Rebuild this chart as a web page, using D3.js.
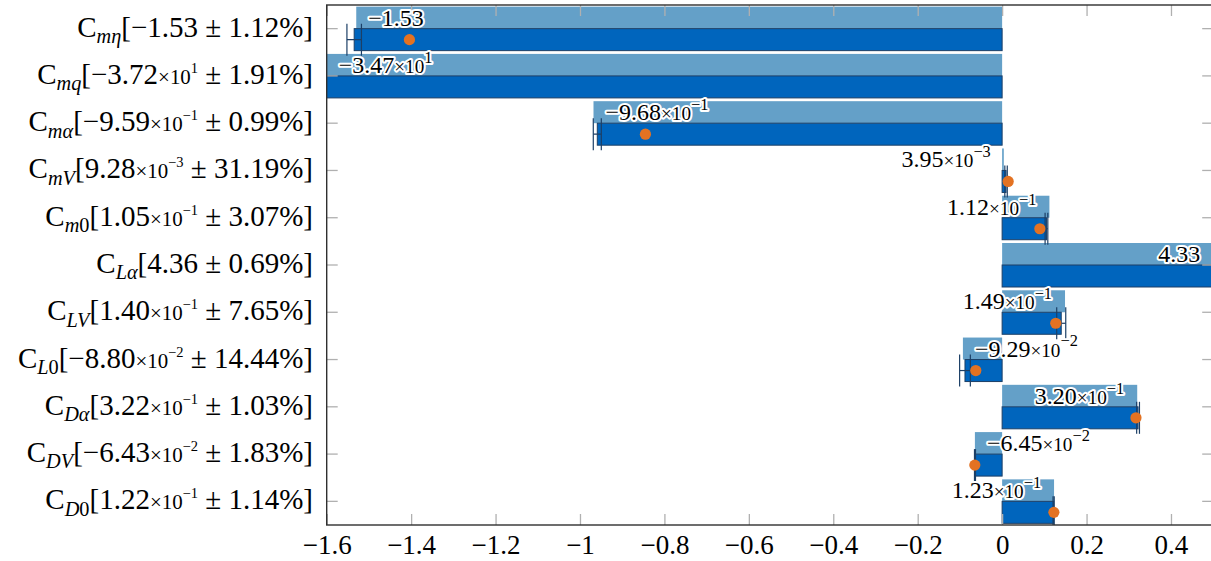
<!DOCTYPE html>
<html>
<head>
<meta charset="utf-8">
<script src="https://cdn.jsdelivr.net/npm/d3@7"></script>
<style>
  body { margin: 0; background: #fff; }
  svg text { font-family: "Liberation Serif", "DejaVu Serif", serif; white-space: pre; }
</style>
</head>
<body>
<svg id="chart" width="1211" height="561"></svg>
<script>
// coefficient subscripts (C_xx), first char group italic letters
const coeffs = ["mη", "mq", "mα", "mV", "m0", "Lα", "LV", "L0", "Dα", "DV", "D0"];
// identified estimate (dark bar) and its relative error in %
const estimates = [-1.5349, -37.2, -0.959, 0.00928, 0.105, 4.36, 0.140, -0.0880, 0.322, -0.0643, 0.122];
const errorsPct = [1.12, 1.91, 0.99, 31.19, 3.07, 0.69, 7.65, 14.44, 1.03, 1.83, 1.14];
// reference values (light bar, labelled)
const references = [-1.53, -34.7, -0.968, 0.00395, 0.112, 4.33, 0.149, -0.0929, 0.320, -0.0645, 0.123];
// orange markers (null = outside of the plotted range)
const markers = [-1.404, null, -0.845, 0.0143, 0.0894, null, 0.127, -0.0624, 0.317, -0.0647, 0.1226];
const xTicks = [-1.6, -1.4, -1.2, -1, -0.8, -0.6, -0.4, -0.2, 0, 0.2, 0.4];

const lightBlue = "#64a0c8";
const darkBlue = "#0065bd";
const edgeBlue = "#1c3f66";
const orange = "#e37222";

const plot = {left: 326.7, right: 1213.2, top: 5, bottom: 525};
const svg = d3.select("#chart");

const x = d3.scaleLinear().domain([-1.6, 0.5]).range([plot.left, plot.right]);
const y = d3.scaleBand().domain(coeffs).range([plot.top, plot.bottom]).padding(0);
const barH = 22;
const yc = c => y(c) + y.bandwidth() / 2;

svg.append("clipPath").attr("id", "clip")
    .append("rect")
    .attr("x", plot.left).attr("y", plot.top)
    .attr("width", plot.right - plot.left).attr("height", plot.bottom - plot.top);

// Write a list of text pieces (size scale, rise, italic) into a text element
function addParts(text, parts, base) {
    let cur = 0;
    parts.forEach(p => {
        const ts = text.append("tspan").text(p.s).style("font-size", (base * (p.scale || 1)) + "px");
        if (p.italic) ts.style("font-style", "italic");
        const target = -(p.rise || 0) * base;
        ts.attr("dy", target - cur);
        cur = target;
    });
}

function valueParts(v, small, sup, rise) {
    const exp = Math.floor(Math.log10(Math.abs(v)));
    const sign = v < 0 ? "\u2212" : "";
    if (exp === 0) return [{s: sign + Math.abs(v).toFixed(2)}];
    const mant = Math.abs(v) / Math.pow(10, exp);
    return [
        {s: sign + mant.toFixed(2)},
        {s: "\u00d710", scale: small},
        {s: (exp < 0 ? "\u2212" : "") + Math.abs(exp), scale: sup, rise: rise}
    ];
}

const clipped = svg.append("g").attr("clip-path", "url(#clip)");

// light (reference) bars
clipped.selectAll("rect.ref")
    .data(coeffs)
    .enter().append("rect")
    .attr("class", "ref")
    .attr("x", (d, i) => x(Math.min(0, references[i])))
    .attr("y", d => yc(d) - barH)
    .attr("width", (d, i) => Math.abs(x(references[i]) - x(0)))
    .attr("height", barH)
    .attr("fill", lightBlue);

// dark (estimate) bars
clipped.selectAll("rect.est")
    .data(coeffs)
    .enter().append("rect")
    .attr("class", "est")
    .attr("x", (d, i) => x(Math.min(0, estimates[i])))
    .attr("y", d => yc(d))
    .attr("width", (d, i) => Math.abs(x(estimates[i]) - x(0)))
    .attr("height", barH)
    .attr("fill", darkBlue)
    .attr("stroke", edgeBlue)
    .attr("stroke-width", 1);

// error bars
coeffs.forEach((c, i) => {
    const v = estimates[i], e = Math.abs(v) * errorsPct[i] / 100;
    const cy = yc(c) + barH / 2;
    const g = clipped.append("g").attr("stroke", edgeBlue).attr("stroke-width", 1.2);
    g.append("line").attr("x1", x(v - e)).attr("x2", x(v + e)).attr("y1", cy).attr("y2", cy);
    [v - e, v + e].forEach(b =>
        g.append("line").attr("x1", x(b)).attr("x2", x(b)).attr("y1", cy - 16).attr("y2", cy + 16));
});

// markers
clipped.selectAll("circle.mk")
    .data(coeffs.filter((c, i) => markers[i] !== null))
    .enter().append("circle")
    .attr("class", "mk")
    .attr("cx", c => x(markers[coeffs.indexOf(c)]))
    .attr("cy", c => yc(c) + barH / 2)
    .attr("r", 5.6)
    .attr("fill", orange);

// axes (ticks point inward, light grey)
const tickFmt = d3.format(".1~f");
const axB = svg.append("g").attr("transform", `translate(0,${plot.bottom})`)
    .call(d3.axisBottom(x).tickValues(xTicks).tickSize(-11).tickSizeOuter(0).tickPadding(10).tickFormat(tickFmt));
const axT = svg.append("g").attr("transform", `translate(0,${plot.top})`)
    .call(d3.axisTop(x).tickValues(xTicks).tickSize(-11).tickSizeOuter(0).tickFormat(""));
const axL = svg.append("g").attr("transform", `translate(${plot.left},0)`)
    .call(d3.axisLeft(y).tickSize(-11).tickSizeOuter(0).tickFormat(""));
const axR = svg.append("g").attr("transform", `translate(${plot.right},0)`)
    .call(d3.axisRight(y).tickSize(-11).tickSizeOuter(0).tickFormat(""));
[axB, axT, axL, axR].forEach(a => {
    a.select(".domain").remove();
    a.selectAll(".tick line").attr("stroke", "#b0b0b0").attr("stroke-width", 1.3);
});
axB.selectAll(".tick text")
    .style("font-size", "27px")
    .attr("fill", "#000");

svg.append("rect")
    .attr("x", plot.left).attr("y", plot.top)
    .attr("width", plot.right - plot.left).attr("height", plot.bottom - plot.top)
    .attr("fill", "none").attr("stroke", "#303030").attr("stroke-width", 1.4);

// bar labels with white halo
coeffs.forEach((c, i) => {
    const v = references[i];
    const pos = v >= 0;
    const xv = x(Math.max(-1.6, Math.min(0.5, v)));
    const t = svg.append("text")
        .attr("x", pos ? xv - 13 : xv + 12)
        .attr("y", yc(c) - barH / 2 + 8)
        .attr("text-anchor", pos ? "end" : "start")
        .attr("stroke", "#fff").attr("stroke-width", 4)
        .attr("stroke-linejoin", "round")
        .attr("paint-order", "stroke")
        .attr("fill", "#000");
    addParts(t, valueParts(v, 0.8, 0.68, 0.42), 24);
});

// category labels
coeffs.forEach((c, i) => {
    const t = svg.append("text")
        .attr("x", 313)
        .attr("y", yc(c) + 8)
        .attr("text-anchor", "end")
        .attr("fill", "#000");
    const sub = c.split("").map(ch => ({s: ch, scale: 0.7, rise: -0.22, italic: ch !== "0"}));
    const parts = [{s: "C"}].concat(sub, [{s: "["}], valueParts(estimates[i], 0.72, 0.5, 0.38),
        [{s: " \u00b1 " + errorsPct[i].toFixed(2) + "%]"}]);
    addParts(t, parts, 29);
});
</script>
</body>
</html>
